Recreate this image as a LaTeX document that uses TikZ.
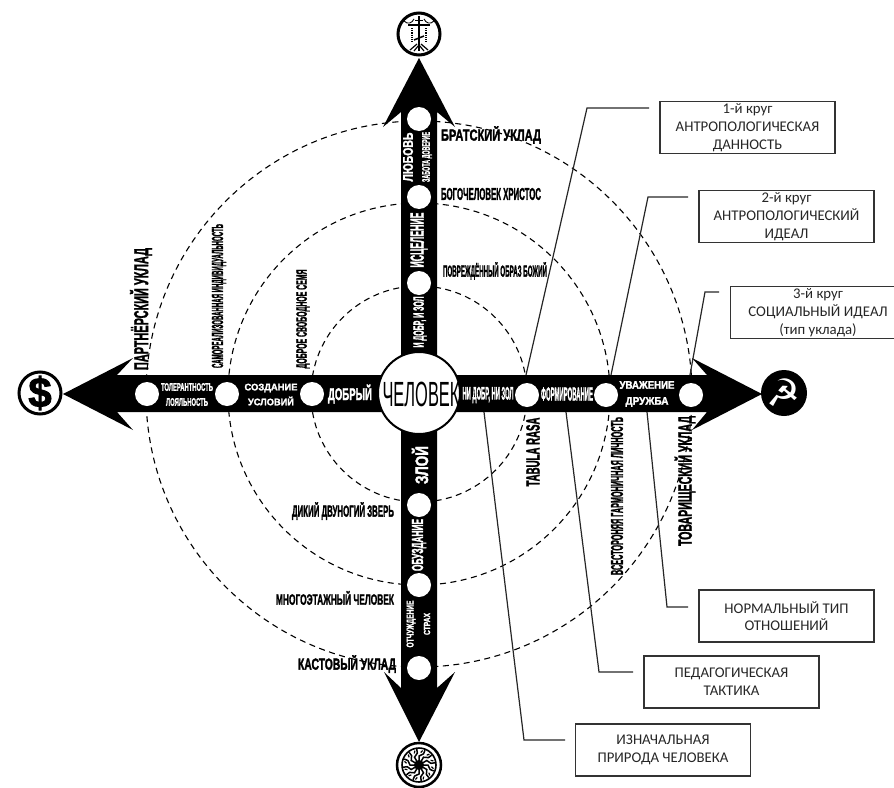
\documentclass[tikz,border=0pt]{standalone}
\usepackage{fontspec}
\usepackage{graphicx}
\setmainfont{Liberation Sans}
\newfontfamily\heavyfont[BoldFeatures={FakeBold=2}]{Liberation Sans}
\newfontfamily\boxfont{Carlito}
\newfontfamily\symbolfont{DejaVu Sans}
\newcommand{\squeezed}[3]{\resizebox{#1pt}{\height}{\heavyfont\fontsize{#2}{#2}\selectfont\bfseries #3}}

\begin{document}
\begin{tikzpicture}[
        x=1pt, y=-1pt,
        onbar/.style={inner sep=0pt, text=white},
        offbar/.style={inner sep=0pt, text=black},
        up/.style={rotate=90},
        spot/.style={circle, fill=white, inner sep=0pt, minimum size=24pt},
        orbit/.style={draw, line width=1.1pt, dash pattern=on 6pt off 4.5pt},
        leader/.style={draw=black!85, line width=1.2pt},
        note/.style={draw=black!80, line width=1.3pt, minimum width=175pt, minimum height=52pt,
            inner sep=0pt, align=center, font=\boxfont\fontsize{14.8}{17.8}\selectfont, text=black!85},
        emblem/.style={circle, draw, line width=3pt, fill=white, minimum size=42pt, inner sep=0pt}
    ]
        \useasboundingbox (0,0) rectangle (894,787);

        % Circles
        \draw[orbit] (419,394) circle (108);
        \draw[orbit] (419,394) circle (191);
        \draw[orbit] (419,394) circle (273);

        % Leader ends
        \coordinate (a1) at (649,108);
        \coordinate (a2) at (587,108);
        \coordinate (a3) at (526,375);
        \coordinate (b1) at (688,197);
        \coordinate (b2) at (648,197);
        \coordinate (b3) at (611,375);
        \coordinate (c1) at (719,292);
        \coordinate (c2) at (705,292);
        \coordinate (c3) at (690,375);
        \coordinate (d1) at (688,607);
        \coordinate (d2) at (667,607);
        \coordinate (d3) at (647,412);
        \coordinate (e1) at (633,672);
        \coordinate (e2) at (599,672);
        \coordinate (e3) at (566,412);
        \coordinate (f1) at (565,740);
        \coordinate (f2) at (524,740);
        \coordinate (f3) at (484,412);
        \draw[leader] (a1) -- (a2) -- (a3);
        \draw[leader] (b1) -- (b2) -- (b3);
        \draw[leader] (c1) -- (c2) -- (c3);
        \draw[leader] (d1) -- (d2) -- (d3);
        \draw[leader] (e1) -- (e2) -- (e3);
        \draw[leader] (f1) -- (f2) -- (f3);

        % Arrow cross
        \fill (419,58) -- (455,127) -- (437,112) -- (437,375) -- (707,375) -- (692,358)
            -- (762,394) -- (692,430) -- (707,412) -- (437,412) -- (437,688) -- (455,672)
            -- (419,742) -- (384,672) -- (401,688) -- (401,412) -- (117,412) -- (133,430)
            -- (63,394) -- (133,358) -- (117,375) -- (401,375) -- (401,112) -- (383,127) -- cycle;

        % Spots
        \node[spot] (n1) at (419,119) {};
        \node[spot] (n2) at (419,197) {};
        \node[spot] (n3) at (419,283) {};
        \node[spot] (s1) at (419,505) {};
        \node[spot] (s2) at (419,585) {};
        \node[spot] (s3) at (419,668) {};
        \node[spot] (w1) at (147,394) {};
        \node[spot] (w2) at (227,394) {};
        \node[spot] (w3) at (312,394) {};
        \node[spot] (e4) at (527,395) {};
        \node[spot] (e5) at (606,395) {};
        \node[spot] (e6) at (691,395) {};

        % Centre
        \node[circle, draw, line width=2pt, fill=white, minimum size=82pt, inner sep=0pt] (man) at (419,393) {};
        \node[inner sep=0pt] (manlabel) at (421,394) {\resizebox{77pt}{\height}{\fontsize{35}{35}\selectfont ЧЕЛОВЕК}};

        % On the bars
        \node[onbar, up] (love) at (408,157) {\squeezed{49}{14}{ЛЮБОВЬ}};
        \node[onbar, up] (care) at (427,157) {\squeezed{50}{11}{ЗАБОТА ДОВЕРИЕ}};
        \node[onbar, up] (heal) at (419,240) {\squeezed{55}{19}{ИСЦЕЛЕНИЕ}};
        \node[onbar, up] (both) at (420,322) {\squeezed{51}{15}{И ДОБР, И ЗОЛ}};
        \node[onbar] (toler) at (187,387) {\squeezed{52}{11}{ТОЛЕРАНТНОСТЬ}};
        \node[onbar] (loyal) at (187,402) {\squeezed{42}{11}{ЛОЯЛЬНОСТЬ}};
        \node[onbar] (create) at (271,388) {\squeezed{53}{9.5}{СОЗДАНИЕ}};
        \node[onbar] (cond) at (271,401) {\squeezed{46}{9.5}{УСЛОВИЙ}};
        \node[onbar] (kind) at (350,394) {\squeezed{44}{17}{ДОБРЫЙ}};
        \node[onbar] (neither) at (488,395) {\squeezed{51}{18}{НИ ДОБР, НИ ЗОЛ}};
        \node[onbar] (form) at (567,394) {\squeezed{52}{19}{ФОРМИРОВАНИЕ}};
        \node[onbar] (respect) at (647,385) {\squeezed{55}{11}{УВАЖЕНИЕ}};
        \node[onbar] (friend) at (647,402) {\squeezed{43}{11}{ДРУЖБА}};
        \node[onbar, up] (evil) at (420,465) {\squeezed{38}{18}{ЗЛОЙ}};
        \node[onbar, up] (curb) at (419,545) {\squeezed{52}{16}{ОБУЗДАНИЕ}};
        \node[onbar, up] (alien) at (411,624) {\squeezed{47}{10}{ОТЧУЖДЕНИЕ}};
        \node[onbar, up] (fear) at (427,624) {\squeezed{22}{9}{СТРАХ}};

        % Beside the bars
        \node[offbar] (brat) at (491,135) {\squeezed{100}{16}{БРАТСКИЙ УКЛАД}};
        \node[offbar] (god) at (491,194) {\squeezed{100}{17}{БОГОЧЕЛОВЕК ХРИСТОС}};
        \node[offbar] (image) at (495,271) {\squeezed{104}{16}{ПОВРЕЖДЁННЫЙ ОБРАЗ БОЖИЙ}};
        \node[offbar, up] (partner) at (141,309) {\squeezed{122}{20}{ПАРТНЁРСКИЙ УКЛАД}};
        \node[offbar, up] (self) at (219,296) {\squeezed{144}{16}{САМОРЕАЛИЗОВАННАЯ ИНДИВИДУАЛЬНОСТЬ}};
        \node[offbar, up] (family) at (303,319) {\squeezed{99}{15}{ДОБРОЕ СВОБОДНОЕ СЕМЯ}};
        \node[offbar, up] (tabula) at (533,452) {\squeezed{69}{19}{TABULA RASA}};
        \node[offbar, up] (whole) at (617,496) {\squeezed{158}{17}{ВСЕСТОРОНЯЯ ГАРМОНИЧНАЯ ЛИЧНОСТЬ}};
        \node[offbar, up] (comrade) at (685,481) {\squeezed{130}{19}{ТОВАРИЩЕСКИЙ УКЛАД}};
        \node[offbar] (beast) at (343,511) {\squeezed{102}{16}{ДИКИЙ ДВУНОГИЙ ЗВЕРЬ}};
        \node[offbar] (floors) at (335,598) {\squeezed{118}{15}{МНОГОЭТАЖНЫЙ ЧЕЛОВЕК}};
        \node[offbar] (caste) at (347,664) {\squeezed{98}{16}{КАСТОВЫЙ УКЛАД}};

        % Notes
        \node[note] (box1) at (747.5,127.5) {1-й круг\\АНТРОПОЛОГИЧЕСКАЯ\\ДАННОСТЬ};
        \node[note] (box2) at (786.5,216.5) {2-й круг\\АНТРОПОЛОГИЧЕСКИЙ\\ИДЕАЛ};
        \node[note] (box3) at (818,312.5) {3-й круг\\СОЦИАЛЬНЫЙ ИДЕАЛ\\(тип уклада)};
        \node[note] (box4) at (786.5,616) {НОРМАЛЬНЫЙ ТИП\\ОТНОШЕНИЙ};
        \node[note] (box5) at (731.5,682) {ПЕДАГОГИЧЕСКАЯ\\ТАКТИКА};
        \node[note] (box6) at (663,750) {ИЗНАЧАЛЬНАЯ\\ПРИРОДА ЧЕЛОВЕКА};

        % Emblems
        \node[emblem] (church) at (419,34) {};
        \node[emblem] (money) at (40,393) {\heavyfont\fontsize{42}{42}\selectfont\bfseries\$};
        \node[circle, fill=black, text=white, minimum size=46pt, inner sep=0pt] (labour) at (784,393)
            {\symbolfont\fontsize{38}{38}\selectfont ☭};
        \node[emblem, line width=2.5pt, minimum size=44pt] (sun) at (419,765) {};

        \begin{scope}[shift={(church.center)}, line width=0.9pt]
            \draw[line width=2pt] (0,-18) -- (0,17);
            \draw[line width=1.8pt] (-11,-9) -- (11,-9);
            \draw (-4,-14) -- (4,-14);
            \draw[line width=1.5pt] (-5,6) -- (5,2);
            \draw (-15,-13) .. controls (-11,-9) and (-7,-11) .. (-5,-15);
            \draw (15,-13) .. controls (11,-9) and (7,-11) .. (5,-15);
            \draw[densely dotted, line width=1.2pt] (-7,-6) -- (-7,9);
            \draw[densely dotted, line width=1.2pt] (7,-6) -- (7,9);
            \draw[line width=1.2pt] (-9,16) -- (-2,10) (9,16) -- (2,10) (-5,17) -- (0,11) -- (5,17);
        \end{scope}

        \begin{scope}[shift={(sun.center)}]
            \draw[line width=1.6pt] (0,0) circle (17);
            \fill (0,0) circle (5);
            \foreach \a in {0,30,...,330} {
                \draw[line width=1.5pt] (\a:3) -- (\a:9) -- (\a+22:12) -- (\a+22:16);
                \draw[line width=1.2pt] (\a+8:12.5) -- (\a+14:15);
            }
        \end{scope}
    \end{tikzpicture}
\end{document}
